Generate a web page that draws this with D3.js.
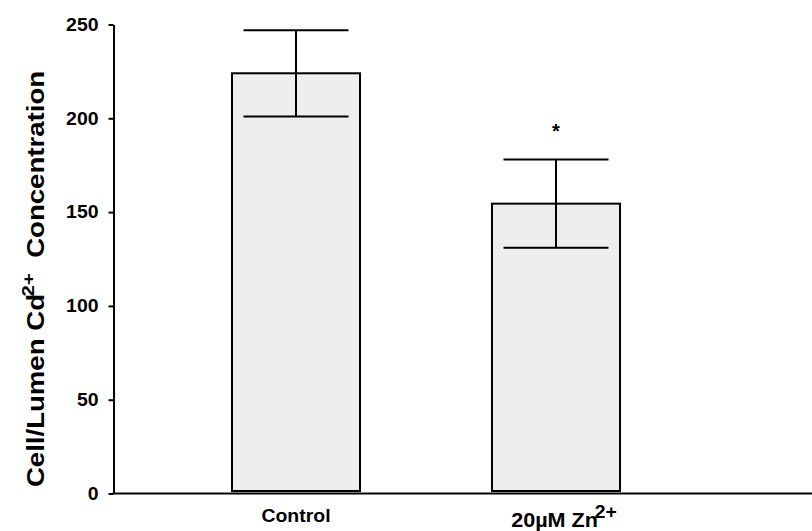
<!DOCTYPE html>
<html>
<head>
<meta charset="utf-8">
<script src="https://cdn.jsdelivr.net/npm/d3@7/dist/d3.min.js"></script>
<style>
  html, body { margin: 0; padding: 0; background: #fff; }
  svg { display: block; }
  text { font-family: "Liberation Sans", Arial, Helvetica, sans-serif; font-weight: bold; fill: #000; }
</style>
</head>
<body>
<svg id="chart" width="812" height="531"></svg>
<script>
// Cell/lumen Cd2+ ratio, mean ± SEM
const groups = ["Control", "Zn"];
const means = [224, 154.5];
const sems = [23, 23.5];
const significance = ["", "*"];
const yTicks = [0, 50, 100, 150, 200, 250];

const svg = d3.select("#chart");
const W = 812, H = 531;
const axisX = 113.5;
const stretch = 1.08; // the labels are set in a slightly wide face

const y = d3.scaleLinear().domain([0, 250]).range([493.5, 24.5]);
const x = d3.scalePoint().domain(groups).range([296, 556]);
const barW = 128, capW = 105;

// bars
svg.selectAll("rect.bar").data(groups).enter().append("rect")
  .attr("class", "bar")
  .attr("x", d => x(d) - barW / 2)
  .attr("y", (d, i) => y(means[i]))
  .attr("width", barW)
  .attr("height", (d, i) => y(0) - 2.5 - y(means[i]))
  .attr("fill", "#eeeeee")
  .attr("stroke", "#000")
  .attr("stroke-width", 2);

// error bars
const err = svg.append("g").attr("stroke", "#000").attr("stroke-width", 2).attr("fill", "none");
groups.forEach((g, i) => {
  const cx = x(g), hi = y(means[i] + sems[i]), lo = y(means[i] - sems[i]);
  err.append("line").attr("x1", cx).attr("x2", cx).attr("y1", hi).attr("y2", lo);
  err.append("line").attr("x1", cx - capW / 2).attr("x2", cx + capW / 2).attr("y1", hi).attr("y2", hi);
  err.append("line").attr("x1", cx - capW / 2).attr("x2", cx + capW / 2).attr("y1", lo).attr("y2", lo);
});

// significance marks
groups.forEach((g, i) => {
  if (!significance[i]) return;
  svg.append("text")
    .attr("x", x(g)).attr("y", y(means[i] + sems[i]) - 22)
    .attr("text-anchor", "middle").attr("font-size", 20)
    .text(significance[i]);
});

// y axis
const yAxis = svg.append("g").attr("transform", `translate(${axisX},0)`)
  .call(d3.axisLeft(y).tickValues(yTicks).tickSize(5).tickSizeOuter(0).tickPadding(10));
yAxis.select(".domain").attr("stroke", "#000").attr("stroke-width", 2);
yAxis.selectAll(".tick line").attr("stroke", "#000").attr("stroke-width", 2);
yAxis.selectAll(".tick text")
  .attr("font-size", 18).attr("font-family", null)
  .each(function () {
    const t = d3.select(this);
    const tx = +t.attr("x");
    t.attr("x", null).attr("transform", `translate(${tx},0) scale(${stretch},1)`);
  });

// x axis baseline
svg.append("line")
  .attr("x1", axisX - 1).attr("x2", W)
  .attr("y1", y(0)).attr("y2", y(0))
  .attr("stroke", "#000").attr("stroke-width", 2);

// category labels
svg.append("text")
  .attr("text-anchor", "middle")
  .attr("transform", `translate(${x("Control")},522) scale(${stretch},1)`)
  .attr("font-size", 18)
  .text("Control");

const zn = svg.append("text")
  .attr("text-anchor", "middle")
  .attr("transform", `translate(${x("Zn") + 8},527) scale(${stretch},1)`)
  .attr("font-size", 20);
zn.append("tspan").text("20µM Zn");
zn.append("tspan").attr("dy", -9).attr("font-size", 18).attr("dx", -3).text("2+");

// y axis title
const title = svg.append("text")
  .attr("text-anchor", "middle")
  .attr("transform", `translate(44,279) rotate(-90) scale(1.2,1)`)
  .attr("font-size", 23);
title.append("tspan").text("Cell/Lumen Cd");
title.append("tspan").attr("dy", -10).attr("font-size", 17).attr("dx", -2).text("2+");
title.append("tspan").attr("dy", 10).text("\u00a0 Concentration");
</script>
</body>
</html>
